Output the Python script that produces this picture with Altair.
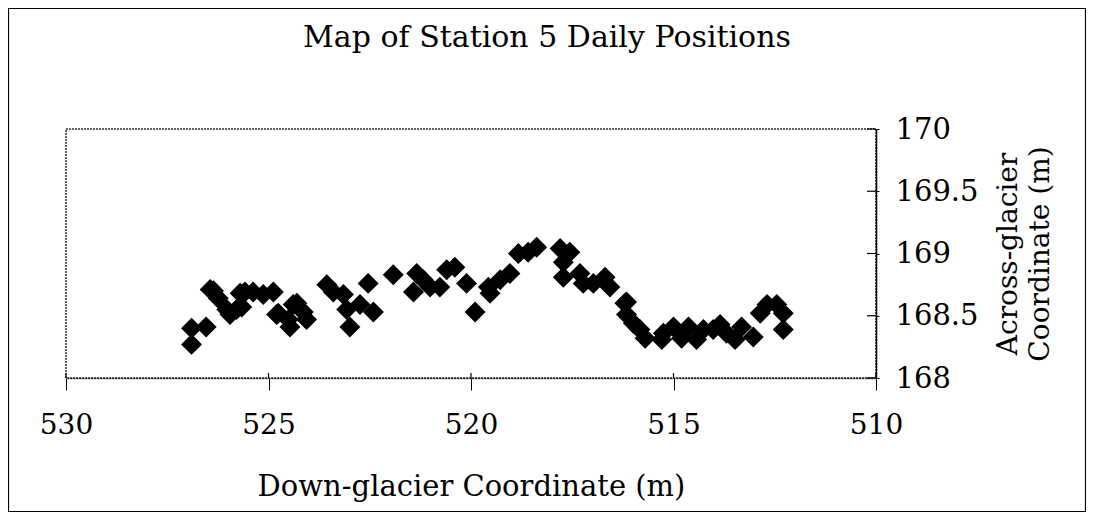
import altair as alt
import pandas as pd

# Down-glacier (x) and across-glacier (y) coordinates of daily positions (m)
down_glacier = [
    526.90, 526.90, 526.54,
    526.44, 526.36, 526.24, 526.03, 525.95, 525.79, 525.70, 525.66, 525.58, 525.38,
    525.13, 524.88, 524.80, 524.76, 524.51, 524.47, 524.39, 524.30, 524.14, 524.06,
    523.56, 523.40, 523.15, 523.07, 522.99, 522.74, 522.54, 522.41,
    521.92, 521.42, 521.34, 521.18, 521.01, 520.77, 520.60, 520.40, 520.11, 519.90,
    519.57, 519.53, 519.28, 519.04, 518.83, 518.59, 518.38,
    517.80, 517.72, 517.72, 517.56, 517.31, 517.23, 516.98, 516.69, 516.57, 516.20,
    516.16, 516.16, 515.99, 515.83, 515.70,
    515.29, 515.25, 515.00, 514.80, 514.63, 514.43, 514.26, 514.02, 513.85, 513.69,
    513.48, 513.32, 513.03, 512.86, 512.69, 512.45, 512.29, 512.29,
]
across_glacier = [
    168.27, 168.40, 168.41,
    168.71, 168.70, 168.64, 168.55, 168.51, 168.55, 168.68, 168.57, 168.69, 168.69,
    168.67, 168.69, 168.51, 168.52, 168.47, 168.41, 168.59, 168.60, 168.53, 168.47,
    168.75, 168.69, 168.67, 168.55, 168.41, 168.59, 168.76, 168.53,
    168.83, 168.69, 168.84, 168.79, 168.73, 168.73, 168.87, 168.89, 168.76, 168.53,
    168.73, 168.68, 168.79, 168.84, 169.00, 169.01, 169.05,
    169.04, 168.93, 168.81, 169.01, 168.84, 168.76, 168.76, 168.81, 168.73, 168.60,
    168.61, 168.51, 168.44, 168.39, 168.32,
    168.31, 168.36, 168.41, 168.32, 168.41, 168.31, 168.39, 168.39, 168.43, 168.36,
    168.31, 168.41, 168.33, 168.52, 168.59, 168.59, 168.52, 168.39,
]
x_ticks = [530, 525, 520, 515, 510]
y_ticks = [168, 168.5, 169, 169.5, 170]

df = pd.DataFrame({"x": down_glacier, "y": across_glacier})
xt = pd.DataFrame({"x": x_ticks})
yt = pd.DataFrame({"y": y_ticks})

FONT = "DejaVu Serif"
W, H = 810, 249

xscale = alt.Scale(domain=[510, 530], reverse=True, nice=False, zero=False)
yscale = alt.Scale(domain=[168, 170], nice=False, zero=False)

xaxis = alt.Axis(values=x_ticks, format="d", orient="bottom",
                 title="Down-glacier Coordinate (m)",
                 grid=False, domainColor="#222", domainWidth=1.5,
                 domainDash=[2, 1], tickColor="black", tickSize=12,
                 labelFlush=False, labelOverlap=False,
                 labelPadding=21, labelFont=FONT, labelFontSize=28,
                 labelColor="black", titleFont=FONT, titleFontSize=29,
                 titleFontWeight="normal", titleColor="black",
                 titlePadding=33)
yaxis = alt.Axis(values=y_ticks, format="~g", orient="right",
                 title=["Across-glacier", "Coordinate (m)"],
                 titleAngle=270, grid=False, domainColor="black",
                 domainWidth=1.5, tickColor="black", tickSize=3,
                 labelFlush=False, labelOverlap=False,
                 labelPadding=16, labelFont=FONT, labelFontSize=29,
                 labelColor="black", titleFont=FONT, titleFontSize=28,
                 titleFontWeight="normal", titleColor="black",
                 titlePadding=12, titleLineHeight=32)

points = alt.Chart(df).mark_point(
    shape="diamond", filled=True, color="black", size=440, opacity=1
).encode(
    x=alt.X("x:Q", scale=xscale, axis=xaxis),
    y=alt.Y("y:Q", scale=yscale, axis=yaxis),
)

y_in = alt.Chart(yt).mark_rule(color="black", strokeWidth=1.2).encode(
    y=alt.Y("y:Q", scale=yscale, axis=yaxis),
    x=alt.value(W - 9), x2=alt.value(W),
)
x_in = alt.Chart(xt).mark_rule(color="black", strokeWidth=1.2).encode(
    x=alt.X("x:Q", scale=xscale, axis=xaxis),
    y=alt.value(H - 5), y2=alt.value(H),
)
frame = alt.Chart(pd.DataFrame({"f": [0]})).mark_rect(
    fill=None, stroke="black", strokeWidth=1.2
).encode(
    x=alt.value(-57.5), x2=alt.value(1019.5),
    y=alt.value(-120.5), y2=alt.value(382.5),
)

chart = alt.layer(points, y_in, x_in, frame).properties(
    width=W, height=H,
    background="white",
    autosize=alt.AutoSizeParams(type="none"),
    padding={"left": 58, "top": 121, "right": 210, "bottom": 134},
    title=alt.TitleParams("Map of Station 5 Daily Positions", font=FONT,
                          fontSize=30, fontWeight="normal", color="black",
                          anchor="middle", dx=76, offset=-45),
).configure_view(
    stroke="#333", strokeWidth=1.5, strokeDash=[2, 1]
)

chart.save("out.html", embed_options={"renderer": "svg", "actions": False})
